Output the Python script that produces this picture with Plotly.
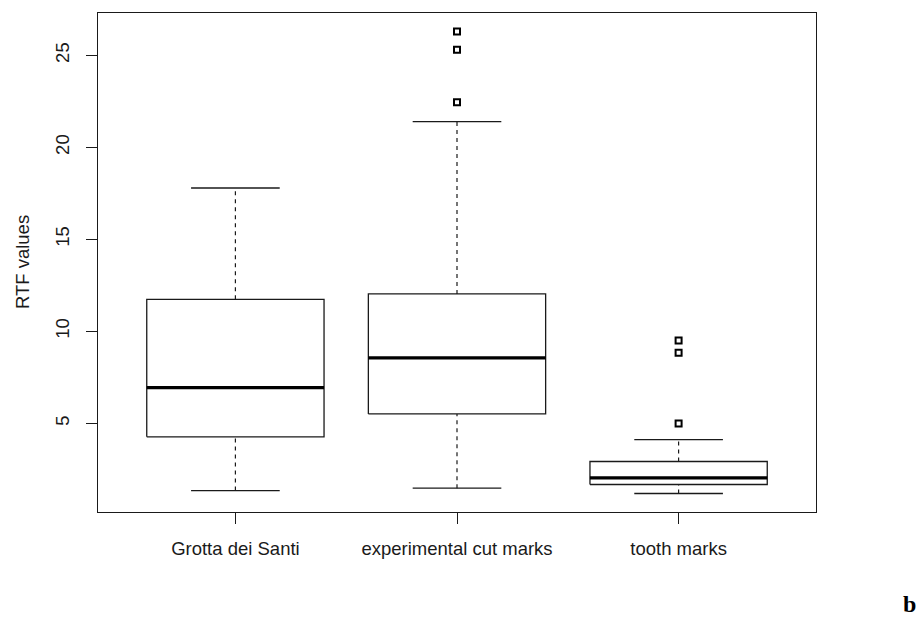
import plotly.graph_objects as go

# ---- data ----
categories = ["Grotta dei Santi", "experimental cut marks", "tooth marks"]
lower_whisker = [1.34, 1.47, 1.18]
q1_values = [4.26, 5.51, 1.67]
medians = [6.94, 8.55, 2.03]
q3_values = [11.74, 12.03, 2.92]
upper_whisker = [17.79, 21.40, 4.11]
outliers = [[], [26.30, 25.30, 22.45], [9.50, 8.83, 4.98]]
y_ticks = [5, 10, 15, 20, 25]

INK = "#1a1a1a"
BOX_HALF = 0.4
CAP_HALF = 0.2

fig = go.Figure()
positions = list(range(1, len(categories) + 1))

for pos, lo, a, m, b, hi, outs in zip(positions, lower_whisker, q1_values, medians,
                                       q3_values, upper_whisker, outliers):
    # box
    fig.add_trace(go.Scatter(
        x=[pos - BOX_HALF, pos + BOX_HALF, pos + BOX_HALF, pos - BOX_HALF, pos - BOX_HALF],
        y=[a, a, b, b, a], mode="lines", line=dict(color=INK, width=1.3),
        showlegend=False, hoverinfo="skip"))
    # median
    fig.add_trace(go.Scatter(
        x=[pos - BOX_HALF, pos + BOX_HALF], y=[m, m], mode="lines",
        line=dict(color="#000000", width=3.2), showlegend=False, hoverinfo="skip"))
    # whiskers (dashed)
    for y0, y1 in ((b, hi), (lo, a)):
        fig.add_trace(go.Scatter(
            x=[pos, pos], y=[y0, y1], mode="lines",
            line=dict(color=INK, width=1.2, dash="4px,4px"),
            showlegend=False, hoverinfo="skip"))
    # caps
    for yv in (hi, lo):
        fig.add_trace(go.Scatter(
            x=[pos - CAP_HALF, pos + CAP_HALF], y=[yv, yv], mode="lines",
            line=dict(color=INK, width=1.3), showlegend=False, hoverinfo="skip"))
    # outliers
    if outs:
        fig.add_trace(go.Scatter(
            x=[pos] * len(outs), y=outs, mode="markers",
            marker=dict(symbol="square-open", size=6, color="#000000",
                        line=dict(width=2)),
            showlegend=False, hoverinfo="skip"))

ymin = min(lower_whisker)
ymax = max(max(o) for o in outliers if o)
pad = 0.04 * (ymax - ymin)

FONT = "Liberation Sans, Arial, sans-serif"
FS = 18.5

fig.update_layout(
    width=921, height=618,
    margin=dict(l=97.5, r=104.5, t=12.5, b=106),
    paper_bgcolor="white", plot_bgcolor="white",
    font=dict(family=FONT, size=FS, color="#1a1a1a"),
    xaxis=dict(
        range=[0.5 - 0.12, len(categories) + 0.5 + 0.12],
        tickvals=positions, ticktext=categories,
        showgrid=False, zeroline=False,
        showline=True, mirror=True, linecolor=INK, linewidth=1.3,
        ticks="outside", ticklen=11, tickwidth=1.2, tickcolor=INK,
        ticklabelstandoff=9,
        tickfont=dict(family=FONT, size=FS, color="#1a1a1a"),
    ),
    yaxis=dict(
        range=[ymin - pad, ymax + pad],
        tickvals=y_ticks, ticktext=[str(t) for t in y_ticks],
        showgrid=False, zeroline=False,
        showline=True, mirror=True, linecolor=INK, linewidth=1.3,
        ticks="outside", ticklen=11, tickwidth=1.2, tickcolor=INK,
        tickangle=-90, ticklabelstandoff=9,
        tickfont=dict(family=FONT, size=FS, color="#1a1a1a"),
    ),
    annotations=[
        dict(text="RTF values", textangle=-90, xref="paper", yref="paper",
             x=-0.105, y=0.5, xanchor="center", yanchor="middle", showarrow=False,
             font=dict(family=FONT, size=FS, color="#1a1a1a")),
        dict(text="<b>b</b>", xref="paper", yref="paper",
             x=1.130, y=-0.184, xanchor="center", yanchor="middle", showarrow=False,
             font=dict(family="Liberation Serif, Times New Roman, serif", size=24,
                       color="#000000")),
    ],
)

fig.write_html("out.html", config={"displayModeBar": False},
               post_script="document.body.style.margin='0px';")
